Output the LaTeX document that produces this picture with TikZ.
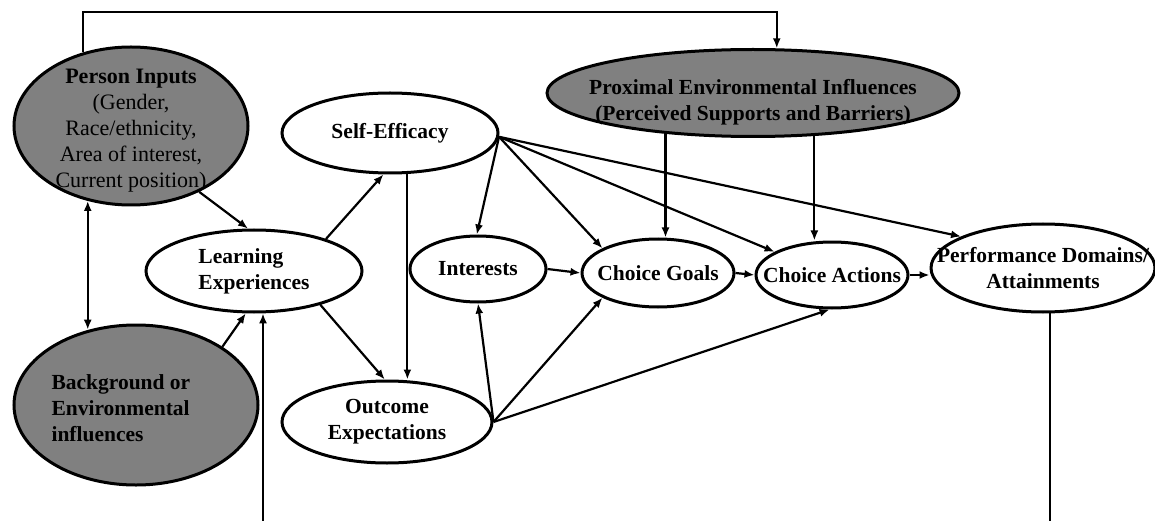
\documentclass[tikz,border=0pt]{standalone}
\usepackage{fontspec}
\setmainfont{Liberation Serif}
\usetikzlibrary{arrows.meta,shapes.geometric}

\begin{document}
\begin{tikzpicture}[x=1pt,y=-1pt,
  every node/.style={font=\fontsize{21.5}{26}\selectfont\bfseries},
  every label/.style={align=center},
  bubble/.style={ellipse, draw, line width=3pt, fill=white, inner sep=0pt},
  shaded/.style={bubble, fill=gray},
  arr/.style={-{Latex[length=10pt,width=8pt]}, line width=2.2pt},
  dbl/.style={{Latex[length=10pt,width=8pt]}-{Latex[length=10pt,width=8pt]}, line width=2.2pt}]
\useasboundingbox (0,0) rectangle (1155,521);

% outer factors
\node [shaded, minimum width=234, minimum height=158,
  label={[yshift=-5pt, font=\fontsize{22}{26}\selectfont\bfseries]center:{Person Inputs\\ \mdseries (Gender,\\ \mdseries Race/ethnicity,\\ \mdseries Area of interest,\\ \mdseries Current position)}}] (pi) at (131,126) {};
\node [shaded, minimum width=244, minimum height=160] (bg) at (136,405) {};
\node [anchor=west, align=left] (bgtext) at (48,408) {Background or\\Environmental\\influences};
\node [shaded, minimum width=412, minimum height=87] (prox) at (753,93) {};
\node [align=center] (proxtext) at (753,102) {Proximal Environmental Influences\\(Perceived Supports and Barriers)};

% core model
\node [bubble, minimum width=216, minimum height=82,
  label={[align=left]center:Learning\\Experiences}] (le) at (254,271) {};
\node [bubble, minimum width=216, minimum height=80, label=center:Self-Efficacy] (se) at (390,133) {};
\node [bubble, minimum width=210, minimum height=82, label=center:{Outcome\\Expectations}] (oe) at (387,422) {};
\node [bubble, minimum width=136, minimum height=66, label=center:Interests] (int) at (478,269) {};
\node [bubble, minimum width=152, minimum height=68, label=center:Choice Goals] (cg) at (658,273) {};
\node [bubble, minimum width=152, minimum height=66, label=center:Choice Actions] (ca) at (832,275) {};
\node [bubble, minimum width=224, minimum height=88,
  label=center:{Performance Domains/\\Attainments}] (pd) at (1043,268) {};

\coordinate (topline) at (0,12);
\coordinate (bot) at (0,521);

\draw [arr] (pi.123) -- (pi.123 |- topline) -- (prox.62 |- topline) -- (prox.62);
\draw [dbl] (pi.-120) -- (pi.-120 |- bg.122);
\draw [arr] (pi.-44) -- (le.98);
\draw [arr] (bg.34) -- (le.-101);
\draw [arr] (le.-78 |- bot) -- (le.-78);

\draw [arr] (le.24) -- (se.-99);
\draw [arr] (le.-27) -- (oe.93);
\draw [arr] (se.-67) -- (se.-67 |- oe.north);

\draw [arr] (se.-2) -- (int.92);
\draw [arr] (se.-2) -- (cg.156);
\draw [arr] (se.-2) -- (ca.158);
\draw [arr] (se.-2) -- (pd.159);

\draw [arr] (oe.east) -- (int.south);
\draw [arr] (oe.east) -- (cg.-156);
\draw [arr] (oe.east) -- (ca.-94);

\draw [arr] (prox.-155.6) -- (prox.-155.6 |- cg.north);
\draw [arr] (prox.-35) -- (prox.-35 |- ca.north);

\draw [arr] (int.east) -- (cg.west);
\draw [arr] (cg.east) -- (ca.west);
\draw [arr] (ca.east) -- (ca.east -| pd.west);

\draw [line width=2.2pt] (pd.-81) -- (pd.-81 |- bot);
\end{tikzpicture}
\end{document}
